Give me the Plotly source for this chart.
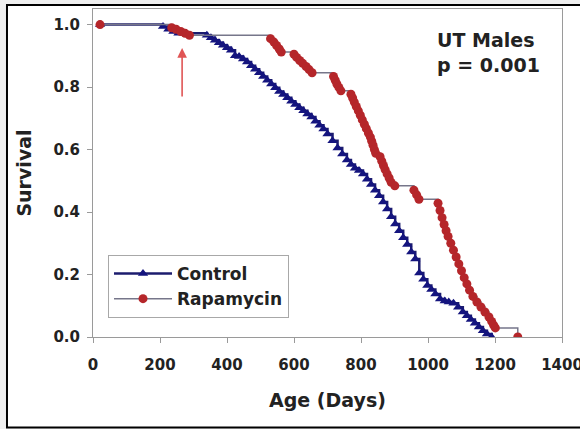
import plotly.graph_objects as go

# Kaplan-Meier survival, UT males
control_age = [21, 209, 225, 240, 255, 340, 352, 364, 376, 388, 400, 412, 424, 436,
               448, 460, 472, 484, 496, 508, 520, 532, 544, 556, 568, 580, 592, 604,
               616, 628, 640, 652, 664, 676, 688, 700, 715, 730, 744, 758, 770, 782,
               794, 806, 818, 830, 842, 854, 866, 878, 890, 902, 914, 926, 938, 950,
               962, 974, 986, 998, 1010, 1022, 1036, 1050, 1062, 1076, 1090, 1104,
               1116, 1128, 1140, 1152, 1164, 1176, 1190]
control_surv = [1.000, 0.994, 0.985, 0.978, 0.972, 0.966, 0.958, 0.950, 0.942, 0.934,
                0.926, 0.918, 0.900, 0.898, 0.890, 0.880, 0.868, 0.857, 0.846, 0.834,
                0.822, 0.810, 0.798, 0.786, 0.776, 0.766, 0.755, 0.744, 0.734, 0.724,
                0.714, 0.704, 0.691, 0.678, 0.666, 0.650, 0.628, 0.605, 0.586, 0.567,
                0.552, 0.540, 0.533, 0.522, 0.505, 0.488, 0.470, 0.452, 0.432, 0.410,
                0.385, 0.362, 0.340, 0.318, 0.296, 0.272, 0.250, 0.205, 0.185, 0.165,
                0.152, 0.138, 0.122, 0.115, 0.112, 0.108, 0.095, 0.080, 0.068, 0.056,
                0.044, 0.032, 0.020, 0.010, 0.000]

rapa_age = [21, 235, 248, 262, 275, 288, 530, 540, 548, 556, 562, 600, 608, 617, 626,
            636, 645, 654, 718, 723, 728, 734, 740, 770, 775, 780, 786, 792, 798, 804,
            810, 816, 822, 828, 832, 836, 840, 844, 857, 862, 867, 872, 878, 884, 890,
            901, 958, 966, 973, 1030, 1036, 1042, 1048, 1054, 1060, 1068, 1076, 1084,
            1092, 1100, 1108, 1116, 1124, 1134, 1146, 1158, 1170, 1182, 1190, 1196,
            1201, 1268]
rapa_surv = [1.000, 0.990, 0.985, 0.978, 0.972, 0.966, 0.955, 0.944, 0.933, 0.922,
             0.912, 0.905, 0.895, 0.885, 0.876, 0.866, 0.856, 0.846, 0.834, 0.822,
             0.810, 0.799, 0.788, 0.777, 0.765, 0.752, 0.738, 0.724, 0.710, 0.695,
             0.681, 0.667, 0.653, 0.640, 0.627, 0.614, 0.600, 0.588, 0.577, 0.563,
             0.549, 0.536, 0.522, 0.509, 0.495, 0.484, 0.470, 0.455, 0.441, 0.428,
             0.405, 0.382, 0.360, 0.340, 0.322, 0.300, 0.278, 0.256, 0.234, 0.212,
             0.190, 0.170, 0.150, 0.130, 0.112, 0.096, 0.080, 0.064, 0.050, 0.038,
             0.029, 0.000]

x_ticks = [0, 200, 400, 600, 800, 1000, 1200, 1400]
y_ticks = [0.0, 0.2, 0.4, 0.6, 0.8, 1.0]

FONT = "DejaVu Sans"

fig = go.Figure()
fig.add_trace(go.Scatter(
    x=control_age, y=control_surv, name="Control", mode="lines+markers",
    line=dict(color="#1c1c6e", width=2.5, shape="hv"),
    marker=dict(symbol="triangle-up", size=9, color="#14147e"),
))
fig.add_trace(go.Scatter(
    x=rapa_age, y=rapa_surv, name="Rapamycin", mode="lines+markers",
    line=dict(color="#76768a", width=1.5, shape="hv"),
    marker=dict(symbol="circle", size=9, color="#b5262a"),
))

axis_common = dict(
    showline=True, mirror=True, linecolor="#9a9a9a", linewidth=1,
    ticks="outside", ticklen=5, tickcolor="#9a9a9a",
    showgrid=False, zeroline=False, ticklabeloverflow="allow", automargin=False,
    tickfont=dict(family=FONT, size=15, color="#222222", weight="bold"),
)

fig.update_layout(
    width=580, height=429,
    margin=dict(l=93, r=18, t=9, b=92),
    paper_bgcolor="#efefef",
    plot_bgcolor="white",
    showlegend=True,
    legend=dict(
        x=0.032, y=0.25, xanchor="left", yanchor="top",
        bgcolor="white", bordercolor="#a8a8a8", borderwidth=1,
        font=dict(family=FONT, size=17, color="#222222", weight="bold"),
        itemwidth=58, tracegroupgap=2,
    ),
    xaxis=dict(
        range=[0, 1400], tickvals=x_ticks,
        title=dict(text="Age (Days)", standoff=20,
                   font=dict(family=FONT, size=19, color="#222222", weight="bold")),
        ticklabelstandoff=9,
        **axis_common,
    ),
    yaxis=dict(
        range=[0, 1.05], tickvals=y_ticks, tickformat=".1f",
        title=dict(text="Survival", standoff=16,
                   font=dict(family=FONT, size=19, color="#222222", weight="bold")),
        ticklabelstandoff=4,
        **axis_common,
    ),
    shapes=[dict(
        type="rect", xref="paper", yref="paper",
        x0=-0.1834, x1=1.08, y0=-0.2759, y1=1.0122,
        line=dict(color="black", width=2), fillcolor="white", layer="below",
    )],
    annotations=[
        dict(
            xref="paper", yref="paper", x=0.729, y=0.945,
            xanchor="left", yanchor="top", align="left", showarrow=False,
            text="UT Males<br>p = 0.001",
            font=dict(family=FONT, size=19, color="#222222", weight="bold"),
        ),
        dict(
            x=266, y=0.925, ax=266, ay=0.765, xref="x", yref="y",
            axref="x", ayref="y", text="", showarrow=True,
            arrowhead=2, arrowsize=1.2, arrowwidth=1.6, arrowcolor="#e05555",
        ),
    ],
)

fig.write_html("out.html")
